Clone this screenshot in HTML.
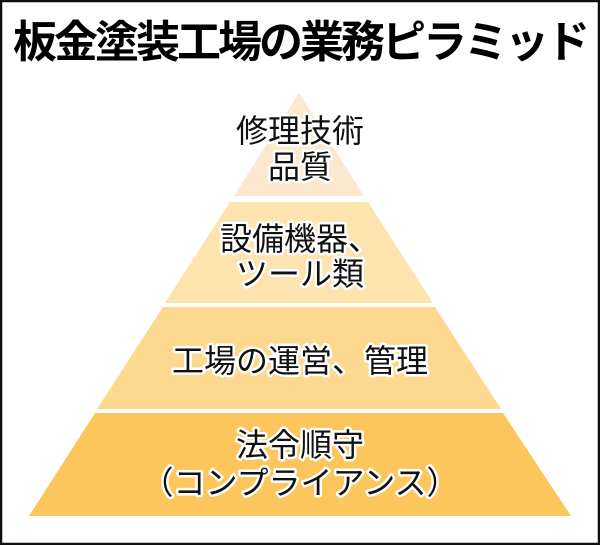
<!DOCTYPE html>
<html><head><meta charset="utf-8"><style>
html,body{margin:0;padding:0;background:#fff;}
svg{display:block;}
text{font-family:"Liberation Sans","Noto Sans CJK JP",sans-serif;}
.l{font-size:32px;fill:#111;stroke:#fff;stroke-width:5px;paint-order:stroke;stroke-linejoin:round;text-anchor:middle;}
</style></head><body>
<svg width="600" height="545" viewBox="0 0 600 545">
<rect x="1" y="1" width="598" height="543" fill="#fff" stroke="#111" stroke-width="2.5"/>
<text x="300" y="57" font-size="44" font-weight="bold" text-anchor="middle" letter-spacing="-3" fill="#000">板金塗装工場の業務ピラミッド</text>
<polygon points="299,93 364,196 234,196" fill="#fbe8cf"/>
<polygon points="230,202 368,202 433,303 165,303" fill="#fde3ad"/>
<polygon points="163,307 435,307 501,409 97,409" fill="#fdd98f"/>
<polygon points="95,413 503,413 571,516 29,516" fill="#fcc65c"/>
<text class="l" x="300" y="142">修理技術</text>
<text class="l" x="300" y="178">品質</text>
<text class="l" x="300" y="250">設備機器、</text>
<text class="l" x="300" y="285">ツール類</text>
<text class="l" x="300" y="372">工場の運営、管理</text>
<text class="l" x="300" y="456">法令順守</text>
<text class="l" x="300" y="494">（コンプライアンス）</text>
</svg>
</body></html>
